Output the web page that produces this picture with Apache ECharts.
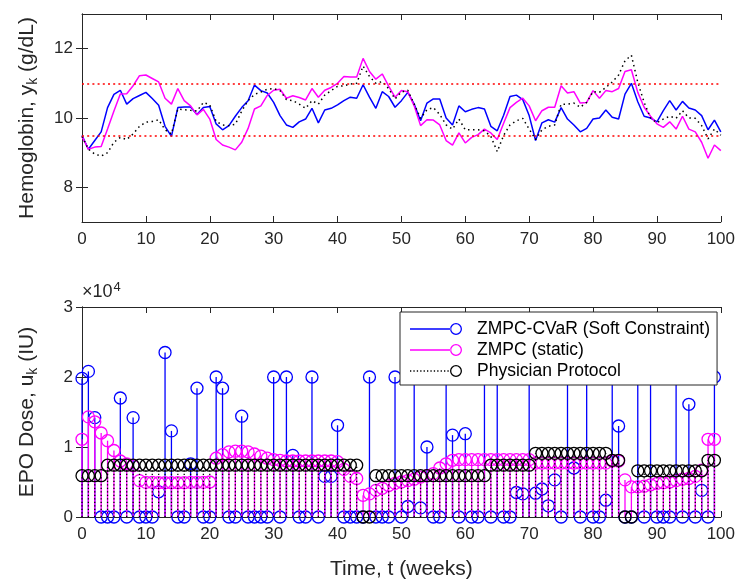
<!DOCTYPE html>
<html>
<head>
<meta charset="utf-8">
<script src="https://cdn.jsdelivr.net/npm/echarts@6/dist/echarts.min.js"></script>
<style>
  html, body { margin: 0; padding: 0; background: #fff; }
  #chart { width: 738px; height: 584px; }
</style>
</head>
<body>
<div id="chart"></div>
<script>
// hemoglobin, weeks 0..100
var hgbCvar = [9.5, 9.1, 9.35, 9.6, 10.3, 10.68, 10.8, 10.4, 10.56, 10.65,
    10.74, 10.56, 10.37, 9.76, 9.47, 10.3, 10.32, 10.32, 10.1, 10.3,
    10.33, 9.83, 9.66, 9.78, 10.05, 10.3, 10.5, 10.95, 10.79, 10.72,
    10.45, 10.07, 9.8, 9.73, 9.89, 9.97, 10.28, 9.86, 10.23, 10.28,
    10.38, 10.5, 10.6, 10.57, 10.96, 10.6, 10.28, 10.76, 10.62, 10.31,
    10.5, 10.74, 10.4, 9.92, 10.43, 10.55, 10.55, 10.0, 9.8, 10.35,
    10.18, 10.25, 10.3, 10.26, 9.76, 9.63, 10.08, 10.62, 10.66, 10.53,
    10.07, 9.35, 9.86, 9.95, 9.88, 10.3, 9.97, 9.8, 9.6, 9.7,
    9.97, 10.0, 10.23, 10.02, 9.97, 10.69, 11.0, 10.47, 10.05, 10.0,
    9.89, 10.21, 10.5, 10.23, 10.48, 10.29, 10.23, 10.07, 9.66, 9.94,
    9.6];
var hgbZmpc = [9.47, 9.1, 9.16, 9.18, 9.68, 10.2, 10.69, 10.7, 10.93, 11.22,
    11.24, 11.14, 11.04, 10.57, 10.4, 10.85, 10.5, 10.35, 10.09, 10.25,
    9.97, 9.38, 9.22, 9.16, 9.08, 9.3, 9.7, 10.26, 10.35, 10.65,
    10.8, 10.83, 10.57, 10.64, 10.59, 10.52, 10.85, 10.6, 10.8, 10.88,
    11.0, 11.2, 11.18, 11.18, 11.72, 11.34, 11.12, 11.27, 10.92, 10.6,
    10.79, 10.76, 10.35, 9.78, 9.95, 9.94, 9.8, 9.35, 9.22, 9.57,
    9.28, 9.44, 9.52, 9.68, 9.57, 9.38, 9.85, 10.3, 10.45, 10.57,
    10.35, 9.92, 10.21, 10.31, 10.31, 10.93, 10.72, 10.76, 10.43, 10.45,
    10.79, 10.57, 10.79, 10.76, 10.85, 11.34, 11.39, 10.74, 10.31, 10.05,
    9.83, 9.73, 9.89, 9.68, 10.05, 9.68, 9.6, 9.3, 8.84, 9.22,
    9.06];
var hgbPhys = [9.47, 9.1, 8.96, 8.9, 9.0, 9.3, 9.44, 9.38, 9.54, 9.76,
    9.88, 9.9, 9.95, 9.66, 9.54, 10.26, 10.24, 10.22, 10.2, 10.45,
    10.38, 9.9, 9.8, 9.78, 9.82, 10.2, 10.5, 10.68, 10.75, 10.83,
    10.85, 10.79, 10.53, 10.5, 10.4, 10.28, 10.5, 10.4, 10.66, 10.79,
    10.91, 10.93, 10.98, 11.0, 11.5, 11.2, 11.0, 11.05, 10.85, 10.55,
    10.75, 10.8, 10.4, 9.99, 10.24, 10.3, 10.1, 9.8, 9.68, 9.97,
    9.66, 9.66, 9.66, 9.63, 9.47, 9.03, 9.5, 9.8, 9.92, 9.99,
    9.68, 9.38, 9.66, 9.76, 9.8, 10.4, 10.4, 10.43, 10.31, 10.45,
    10.76, 10.74, 10.88, 11.04, 11.24, 11.65, 11.81, 11.03, 10.45, 10.0,
    9.86, 9.97, 10.05, 9.99, 10.21, 10.0, 9.99, 9.78, 9.4, 9.68,
    9.5];
var hgbLimits = [11, 9.5];

// EPO dose, weeks 0..99
var doseCvar = [19800, 20800, 14200, 0, 0, 0, 17000, 0, 14200, 0,
    0, 0, 3600, 23500, 12300, 0, 0, 7600, 18400, 0,
    0, 20000, 18400, 0, 0, 14400, 0, 0, 0, 0,
    20000, 0, 20000, 8800, 0, 0, 20000, 0, 5800, 5800,
    13100, 0, 0, 0, 0, 20000, 0, 0, 0, 20000,
    0, 1500, 20000, 1300, 10000, 0, 0, 20000, 11700, 0,
    11900, 0, 0, 20000, 0, 20000, 0, 0, 3500, 3300,
    20000, 3400, 4000, 1600, 5300, 0, 20000, 7000, 0, 20000,
    0, 0, 2400, 20000, 13000, 0, 0, 20000, 0, 20000,
    0, 0, 0, 20000, 0, 16100, 0, 3800, 0, 20000];
var doseZmpc = [11100, 14300, 13600, 12000, 10900, 9500, 8000, 7600, 7300, 5200,
    4950, 4950, 4900, 4900, 4900, 4900, 4900, 4950, 4950, 4950,
    5000, 8400, 8900, 9300, 9400, 9400, 9300, 9000, 8700, 8400,
    8200, 8100, 8000, 8000, 8000, 8000, 8000, 8000, 8000, 8000,
    7900, 6800, 5800, 5500, 3100, 3300, 3800, 4100, 4500, 4800,
    5000, 5200, 5400, 5700, 5900, 6200, 7000, 7600, 8100, 8200,
    8200, 8200, 8200, 8200, 8200, 8200, 8200, 8200, 8200, 8200,
    8200, 7700, 7700, 7700, 7700, 7700, 7700, 7700, 7700, 7700,
    7700, 7700, 7700, 8000, 8000, 5300, 4300, 4300, 4400, 4600,
    4800, 4900, 5000, 5200, 5400, 5500, 5800, 6700, 11100, 11100];
var dosePhys = [5900, 5900, 5900, 5900, 7400, 7400, 7400, 7400, 7400, 7400,
    7400, 7400, 7400, 7400, 7400, 7400, 7400, 7400, 7400, 7400,
    7400, 7400, 7400, 7400, 7400, 7400, 7400, 7400, 7400, 7400,
    7400, 7400, 7400, 7400, 7400, 7400, 7400, 7400, 7400, 7400,
    7400, 7400, 7400, 7400, 0, 0, 5900, 5900, 5900, 5900,
    5900, 5900, 5900, 5900, 5900, 5900, 5900, 5900, 5900, 5900,
    5900, 5900, 5900, 5900, 7400, 7400, 7400, 7400, 7400, 7400,
    7400, 9100, 9100, 9100, 9100, 9100, 9100, 9100, 9100, 9100,
    9100, 9100, 9100, 8100, 8100, 0, 0, 6600, 6600, 6600,
    6600, 6600, 6600, 6600, 6600, 6600, 6600, 6600, 8100, 8100];

var names = ['ZMPC-CVaR (Soft Constraint)', 'ZMPC (static)', 'Physician Protocol'];
var hgbTicks = [8, 10, 12];

var BLUE = '#0000ff', MAG = '#ff00ff', BLK = '#000000', AX = '#262626';
var FONT = "'Liberation Sans Narrow', 'Liberation Sans', Arial, sans-serif";

function pairs(arr) {
    var out = [];
    for (var i = 0; i < arr.length; i++) out.push([i, arr[i]]);
    return out;
}

function stem(color, dotted) {
    return function (params, api) {
        var x = api.value(0), v = api.value(1);
        var top = api.coord([x, v]);
        var base = api.coord([x, 0]);
        var kids = [];
        if (v > 0) {
            kids.push({
                type: 'line',
                shape: { x1: top[0], y1: base[1], x2: top[0], y2: top[1] },
                style: { stroke: color, lineWidth: 1.3, lineDash: dotted ? [1.3, 2.2] : null }
            });
        }
        kids.push({
            type: 'circle',
            shape: { cx: top[0], cy: top[1], r: 6 },
            style: { fill: 'none', stroke: color, lineWidth: 1.3 }
        });
        return { type: 'group', children: kids };
    };
}

// legend icons: line with ring at the right end
var ring = ' M52 6A6 6 0 1 0 40 6A6 6 0 1 0 52 6Z M50.7 6A4.7 4.7 0 1 1 41.3 6A4.7 4.7 0 1 1 50.7 6Z';
var iconSolid = 'path://M0 5.35H40.5V6.65H0Z' + ring;
var dots = '';
for (var d = 0; d < 38; d += 3.4) dots += 'M' + d + ' 5.35h1.3v1.3h-1.3Z ';
var iconDots = 'path://' + dots + ring;

function xAxisCfg(grid, pos, labels, name) {
    return {
        type: 'value', gridIndex: grid, position: pos, min: 0, max: 100, interval: 10,
        axisLine: { show: true, onZero: false, lineStyle: { color: AX, width: 1 } },
        axisTick: { show: true, inside: true, length: 6, lineStyle: { color: AX } },
        axisLabel: { show: labels, color: AX, fontSize: 17, fontFamily: FONT, margin: 9 },
        splitLine: { show: false },
        name: name || '', nameLocation: 'middle', nameGap: 42,
        nameTextStyle: { color: AX, fontSize: 21, fontFamily: FONT }
    };
}

var option = {
    animation: false,
    backgroundColor: '#fff',
    textStyle: { fontFamily: FONT },
    grid: [
        { left: 82, right: 15, top: 14, height: 208 },
        { left: 82, right: 15, top: 307, height: 210 }
    ],
    xAxis: [
        xAxisCfg(0, 'bottom', true),
        xAxisCfg(0, 'top', false),
        xAxisCfg(1, 'bottom', true, 'Time, t (weeks)'),
        xAxisCfg(1, 'top', false)
    ],
    yAxis: [
        {
            type: 'value', gridIndex: 0, position: 'left', min: 7, max: 13, interval: 1,
            axisLine: { show: true, lineStyle: { color: AX } },
            axisTick: { show: true, inside: true, length: 6, customValues: hgbTicks, lineStyle: { color: AX } },
            axisLabel: { color: AX, fontSize: 17, fontFamily: FONT, margin: 9, customValues: hgbTicks },
            splitLine: { show: false },
            name: 'Hemoglobin, y{s|k} (g/dL)', nameLocation: 'middle', nameGap: 42,
            nameTextStyle: {
                color: AX, fontSize: 21, fontFamily: FONT,
                rich: { s: { fontSize: 14, verticalAlign: 'bottom', padding: [12, 0, 0, 0], color: AX, fontFamily: FONT } }
            }
        },
        {
            type: 'value', gridIndex: 0, position: 'right', min: 7, max: 13, interval: 1,
            axisLine: { show: true, lineStyle: { color: AX } },
            axisTick: { show: true, inside: true, length: 6, customValues: hgbTicks, lineStyle: { color: AX } },
            axisLabel: { show: false },
            splitLine: { show: false }
        },
        {
            type: 'value', gridIndex: 1, position: 'left', min: 0, max: 30000, interval: 10000,
            axisLine: { show: true, lineStyle: { color: AX } },
            axisTick: { show: true, inside: true, length: 6, lineStyle: { color: AX } },
            axisLabel: { color: AX, fontSize: 17, fontFamily: FONT, margin: 9,
                formatter: function (v) { return String(v / 10000); } },
            splitLine: { show: false },
            name: 'EPO Dose, u{s|k} (IU)', nameLocation: 'middle', nameGap: 42,
            nameTextStyle: {
                color: AX, fontSize: 21, fontFamily: FONT,
                rich: { s: { fontSize: 14, verticalAlign: 'bottom', padding: [12, 0, 0, 0], color: AX, fontFamily: FONT } }
            }
        },
        {
            type: 'value', gridIndex: 1, position: 'right', min: 0, max: 30000, interval: 10000,
            axisLine: { show: true, lineStyle: { color: AX } },
            axisTick: { show: true, inside: true, length: 6, lineStyle: { color: AX } },
            axisLabel: { show: false },
            splitLine: { show: false }
        }
    ],
    legend: {
        orient: 'vertical', left: 400, top: 312,
        itemWidth: 52, itemHeight: 12, itemGap: 3,
        padding: [8, 7, 5, 10],
        backgroundColor: '#fff', borderColor: AX, borderWidth: 1,
        textStyle: { color: '#000', fontSize: 17.5, fontFamily: FONT, padding: [0, 0, 0, 10] },
        data: [
            { name: names[0], icon: iconSolid, itemStyle: { color: BLUE, borderWidth: 0 } },
            { name: names[1], icon: iconSolid, itemStyle: { color: MAG, borderWidth: 0 } },
            { name: names[2], icon: iconDots, itemStyle: { color: BLK, borderWidth: 0 } }
        ]
    },
    graphic: [{
        type: 'text', left: 82, top: 281,
        style: {
            text: '×10{p|4}', fill: AX, fontSize: 18, fontFamily: FONT,
            rich: { p: { fontSize: 13, verticalAlign: 'top', padding: [0, 0, 10, 1], fill: AX, fontFamily: FONT } }
        }
    }],
    series: [
        {
            type: 'line', xAxisIndex: 0, yAxisIndex: 0, data: pairs(hgbCvar),
            showSymbol: false, lineStyle: { color: BLUE, width: 1.5 }, itemStyle: { color: BLUE },
            markLine: {
                silent: true, symbol: 'none', label: { show: false },
                lineStyle: { color: '#ff0000', type: [2, 3.2], width: 1.5 },
                data: hgbLimits.map(function (v) { return { yAxis: v }; })
            }
        },
        {
            type: 'line', xAxisIndex: 0, yAxisIndex: 0, data: pairs(hgbZmpc),
            showSymbol: false, lineStyle: { color: MAG, width: 1.5 }, itemStyle: { color: MAG }
        },
        {
            type: 'line', xAxisIndex: 0, yAxisIndex: 0, data: pairs(hgbPhys),
            showSymbol: false, lineStyle: { color: BLK, width: 1.5, type: [1.5, 3.5] }, itemStyle: { color: BLK }
        },
        {
            name: names[0], type: 'custom', xAxisIndex: 2, yAxisIndex: 2, clip: false,
            data: pairs(doseCvar), encode: { x: 0, y: 1 },
            itemStyle: { color: BLUE }, renderItem: stem(BLUE, false)
        },
        {
            name: names[1], type: 'custom', xAxisIndex: 2, yAxisIndex: 2, clip: false,
            data: pairs(doseZmpc), encode: { x: 0, y: 1 },
            itemStyle: { color: MAG }, renderItem: stem(MAG, false)
        },
        {
            name: names[2], type: 'custom', xAxisIndex: 2, yAxisIndex: 2, clip: false,
            data: pairs(dosePhys), encode: { x: 0, y: 1 },
            itemStyle: { color: BLK }, renderItem: stem(BLK, true)
        }
    ]
};

var chart = echarts.init(document.getElementById('chart'), null, { renderer: 'canvas' });
chart.setOption(option);
</script>
</body>
</html>
